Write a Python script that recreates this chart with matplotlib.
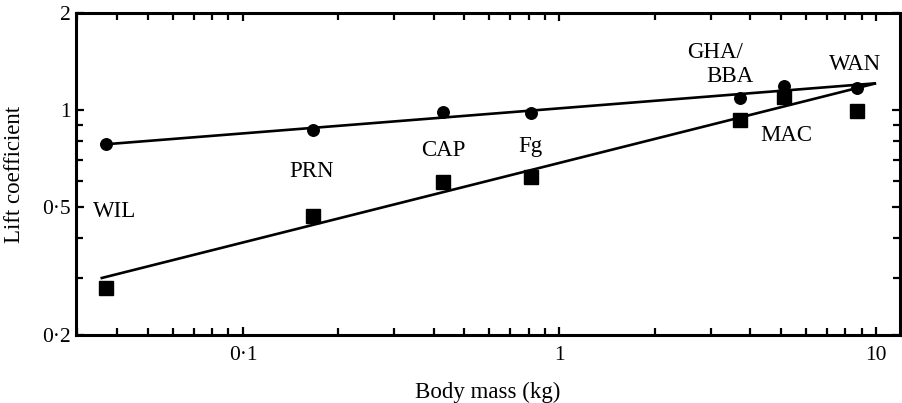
import matplotlib
matplotlib.use("Agg")
import matplotlib.pyplot as plt
from matplotlib.ticker import FixedLocator, FixedFormatter, NullFormatter

plt.rcParams['font.family'] = ['Liberation Serif', 'DejaVu Serif']

# Data
species = ["WIL", "PRN", "CAP", "Fg", "GHA", "BBA", "WAN"]
mass = [0.037, 0.167, 0.43, 0.81, 3.72, 5.1, 8.7]
cl_circle = [0.784, 0.867, 0.985, 0.975, 1.09, 1.19, 1.17]
cl_square = [0.28, 0.469, 0.597, 0.619, 0.93, 1.097, 0.99]

fit_mass = [0.0355, 10.0]
fit_circle = [0.78, 1.21]
fit_square = [0.30, 1.21]

x_major = [0.1, 1, 10]
x_major_labels = ["0·1", "1", "10"]
y_major = [0.2, 0.5, 1, 2]
y_major_labels = ["0·2", "0·5", "1", "2"]
y_minor = [0.3, 0.4, 0.6, 0.7, 0.8, 0.9]

labels = ["WIL", "PRN", "CAP", "Fg", "GHA/", "BBA", "MAC", "WAN"]
label_x = [0.0392, 0.165, 0.431, 0.810, 3.105, 3.463, 5.20, 8.59]
label_y = [0.465, 0.619, 0.719, 0.740, 1.449, 1.221, 0.801, 1.330]

fig = plt.figure(figsize=(9.02, 4.03), dpi=100)
W, H = 902, 403
ax = fig.add_axes([76 / W, (H - 335) / H, (900 - 76) / W, (335 - 13) / H])
ax.set_xscale('log')
ax.set_yscale('log')
ax.set_xlim(0.0297, 11.9)
ax.set_ylim(0.2, 2)

ax.plot(fit_mass, fit_circle, color='black', lw=1.9, solid_capstyle='butt')
ax.plot(fit_mass, fit_square, color='black', lw=1.9, solid_capstyle='butt')
ax.plot(mass, cl_circle, 'o', color='black', ms=8.3, ls='none')
ax.plot(mass, cl_square, 's', color='black', ms=10.5, ls='none')

for t, lx, ly in zip(labels, label_x, label_y):
    ax.text(lx, ly, t, fontsize=16.5, ha='center', va='baseline')

ax.xaxis.set_major_locator(FixedLocator(x_major))
ax.xaxis.set_major_formatter(FixedFormatter(x_major_labels))
ax.xaxis.set_minor_formatter(NullFormatter())
ax.yaxis.set_major_locator(FixedLocator(y_major))
ax.yaxis.set_major_formatter(FixedFormatter(y_major_labels))
ax.yaxis.set_minor_locator(FixedLocator(y_minor))
ax.yaxis.set_minor_formatter(NullFormatter())

ax.tick_params(which='both', direction='in', top=True, right=True, width=1.6,
               labelsize=15.5)
ax.tick_params(which='major', length=6)
ax.tick_params(which='minor', length=5)
ax.tick_params(axis='x', pad=8)
ax.tick_params(axis='y', pad=4)
for s in ax.spines.values():
    s.set_linewidth(2.2)

ax.set_xlabel("Body mass (kg)", fontsize=16.5, labelpad=12)
ax.set_ylabel("Lift coefficient", fontsize=16.5, labelpad=12)

fig.savefig("out.png", dpi=100)
